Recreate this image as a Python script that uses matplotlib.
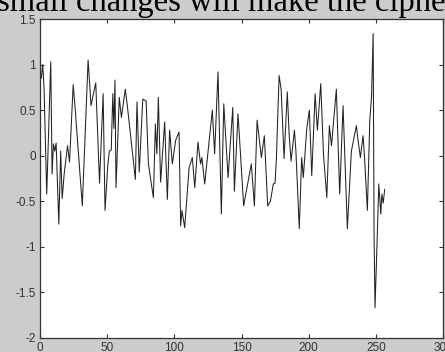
import matplotlib
matplotlib.use("Agg")
import matplotlib.pyplot as plt
from matplotlib.ticker import FuncFormatter

plt.rcParams['axes.unicode_minus'] = False

# sample index of each local extremum
x_vals = [1, 2, 3, 5, 8, 9, 10, 11, 12, 14, 15.4, 16.5, 18, 20.5, 22, 24.7, 26,
          31.5, 35.8, 38, 39.5, 41.5, 44.3, 47, 48.4, 50.5, 51.6, 53, 54.2, 55,
          55.8, 56.6, 59, 60.6, 63.5, 65, 71, 72.2, 73.9, 76.5, 79, 80.7, 84.4,
          85.9, 87, 88.1, 89.8, 92.8, 94.8, 96.5, 98.5, 101, 103.5, 104.7, 105.7,
          107.7, 111, 113.4, 115.2, 117.6, 119.5, 120.5, 122.6, 128.3, 130, 132.5,
          135, 136.8, 140, 143.5, 144.7, 147.4, 151.6, 157.3, 159.6, 161.6, 164.8,
          167, 169.5, 171.5, 173.7, 175, 176, 178, 179.5, 181.7, 184.1, 185.5,
          186.9, 189.4, 190.5, 193, 194.8, 196, 198.6, 200.5, 202.3, 204.8, 206.5,
          209, 211, 213.5, 215.4, 217, 220.6, 223.1, 225.6, 228.8, 231.8, 235.5,
          236.5, 238.5, 240.5, 241.5, 243.7, 245.5, 246.8, 248, 248.7, 249.4,
          251.1, 252.2, 253.7, 254.5, 255.5, 256.6]
y_vals = [0.85, 1.0, 0.75, -0.42, 1.03, -0.2, 0.13, 0.05, 0.14, -0.75, 0.05, -0.47,
          -0.2, 0.11, -0.07, 0.78, 0.55, -0.55, 1.05, 0.55, 0.66, 0.8, -0.3, 0.68,
          -0.6, -0.1, 0.05, 0.06, 0.68, 0.3, 0.83, -0.35, 0.64, 0.42, 0.73, 0.55,
          -0.26, 0.59, -0.18, 0.62, 0.6, -0.09, -0.46, 0.35, 0.02, 0.64, -0.29,
          0.37, -0.48, 0.28, -0.09, 0.17, 0.26, -0.77, -0.6, -0.79, -0.13, -0.02,
          -0.35, 0.15, -0.09, -0.02, -0.31, 0.5, 0.02, 0.92, -0.64, 0.57, -0.24,
          0.53, -0.39, 0.46, -0.55, -0.09, -0.55, 0.39, -0.02, 0.22, -0.55, -0.5,
          -0.31, -0.3, -0.02, 0.88, 0.73, -0.03, 0.7, 0.22, -0.06, 0.28, 0.05,
          -0.8, -0.02, -0.24, 0.3, 0.5, -0.22, 0.68, 0.28, 0.79, 0.02, -0.46, 0.33,
          0.11, 0.73, -0.42, 0.55, -0.8, 0.05, 0.33, 0.2, -0.02, 0.22, 0.0, -0.6,
          0.39, 0.65, 1.34, -0.9, -1.67, -0.86, -0.31, -0.64, -0.42, -0.52, -0.37]

x_ticks = [0, 50, 100, 150, 200, 250, 300]
y_ticks = [-2, -1.5, -1, -0.5, 0, 0.5, 1, 1.5]
caption = "small changes will make the cipher"

fig = plt.figure(figsize=(4.45, 3.52), dpi=100, facecolor='#cccccc')
ax = fig.add_axes([40/445, 14/352, 403/445, 319/352])
ax.set_facecolor('white')
ax.plot(x_vals, y_vals, color='#222222', linewidth=0.75)
ax.set_xlim(0, 300)
ax.set_ylim(-2, 1.5)
ax.set_xticks(x_ticks)
ax.set_yticks(y_ticks)
ax.yaxis.set_major_formatter(FuncFormatter(lambda v, p: ('%g' % v)))
ax.tick_params(direction='in', length=3, width=0.8, top=True, right=True,
               labelsize=8.5, colors='#333333', pad=3)
for lbl in ax.get_xticklabels() + ax.get_yticklabels():
    lbl.set_fontfamily('Liberation Sans')
for s in ax.spines.values():
    s.set_color('#333333')
    s.set_linewidth(0.9)

fig.text(-0.006, 1 - 11/352, caption, fontfamily='Liberation Serif', fontsize=23.5,
         ha='left', va='baseline', color='black')

fig.savefig('out.png', dpi=100, facecolor=fig.get_facecolor())
